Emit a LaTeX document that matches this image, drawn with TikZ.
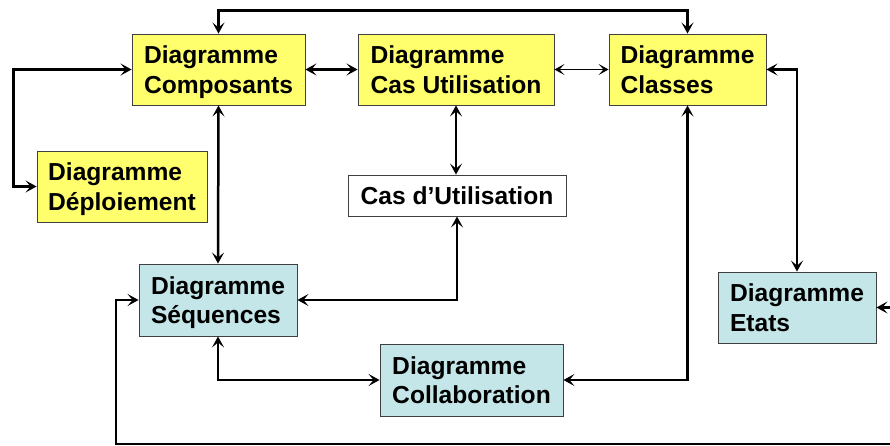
\documentclass[tikz,border=0pt]{standalone}
\usepackage{fontspec}
\setmainfont{Liberation Sans}
\usetikzlibrary{arrows.meta}
\definecolor{boxyellow}{HTML}{FFFF6E}
\definecolor{boxblue}{HTML}{C4E6E8}
\definecolor{boxline}{HTML}{404040}
\newcommand\twolines[2]{\rule{0pt}{24pt}#1\\#2\rule[-6pt]{0pt}{6pt}}
\newcommand\oneline[1]{\rule[-6pt]{0pt}{30pt}#1}
\begin{document}
\begin{tikzpicture}[x=1pt,y=-1pt,
  diag/.style={draw=boxline, line width=0.9pt, align=left, inner sep=0pt,
    font=\fontsize{24.6}{29.5}\selectfont\bfseries},
  yel/.style={diag, fill=boxyellow},
  blu/.style={diag, fill=boxblue},
  wht/.style={diag, fill=white},
  conn/.style={line width=2.5pt, {Stealth[length=11pt,width=12pt,inset=5pt]}-{Stealth[length=11pt,width=12pt,inset=5pt]}},
  thinconn/.style={line width=1.6pt, {Stealth[length=10pt,width=11pt,inset=5pt]}-{Stealth[length=10pt,width=11pt,inset=5pt]}}
]
\useasboundingbox (0,0) rectangle (890,446);
\clip (0,0) rectangle (890,446);
\node[yel, minimum width=173pt, minimum height=71pt] (comp) at (218.5,69.5) {\twolines{Diagramme}{Composants}};
\node[yel, minimum width=196pt, minimum height=71pt] (casu) at (456,69.5) {\twolines{Diagramme}{Cas Utilisation}};
\node[yel, minimum width=157pt, minimum height=71pt] (cls) at (687.5,69.5) {\twolines{Diagramme}{Classes}};
\node[yel, minimum width=170pt, minimum height=71pt] (depl) at (122,186.5) {\twolines{Diagramme}{Déploiement}};
\node[wht, minimum width=218pt, minimum height=41pt] (cas) at (457,195.5) {\oneline{Cas d’Utilisation}};
\node[blu, minimum width=158pt, minimum height=72pt] (seq) at (218,300) {\twolines{Diagramme}{Séquences}};
\node[blu, minimum width=183pt, minimum height=72pt] (coll) at (471.5,380) {\twolines{Diagramme}{Collaboration}};
\node[blu, minimum width=158pt, minimum height=71pt] (etat) at (797,307.5) {\twolines{Diagramme}{Etats}};

\coordinate (far) at (900,307.5);
\coordinate (corner) at (116,444);

\draw[conn] (comp.north) -- ++(0,-23) -| (cls.north);
\draw[conn] (comp.east) -- (casu.west);
\draw[thinconn] (casu.east) -- (cls.west);
\draw[conn] (comp.west) -- ++(-118,0) |- (depl.west);
\draw[conn] (comp.south) -- (seq.north);
\draw[conn] (casu.south) -- (casu.south |- cas.north);
\draw[conn] (cas.south) |- (seq.east);
\draw[conn] (seq.south) |- (coll.west);
\draw[conn] (cls.south) |- (coll.east);
\draw[conn] (cls.east) -| (etat.north);
\draw[conn] (etat.east) -- (far) |- (corner) |- (seq.west);
\end{tikzpicture}
\end{document}
